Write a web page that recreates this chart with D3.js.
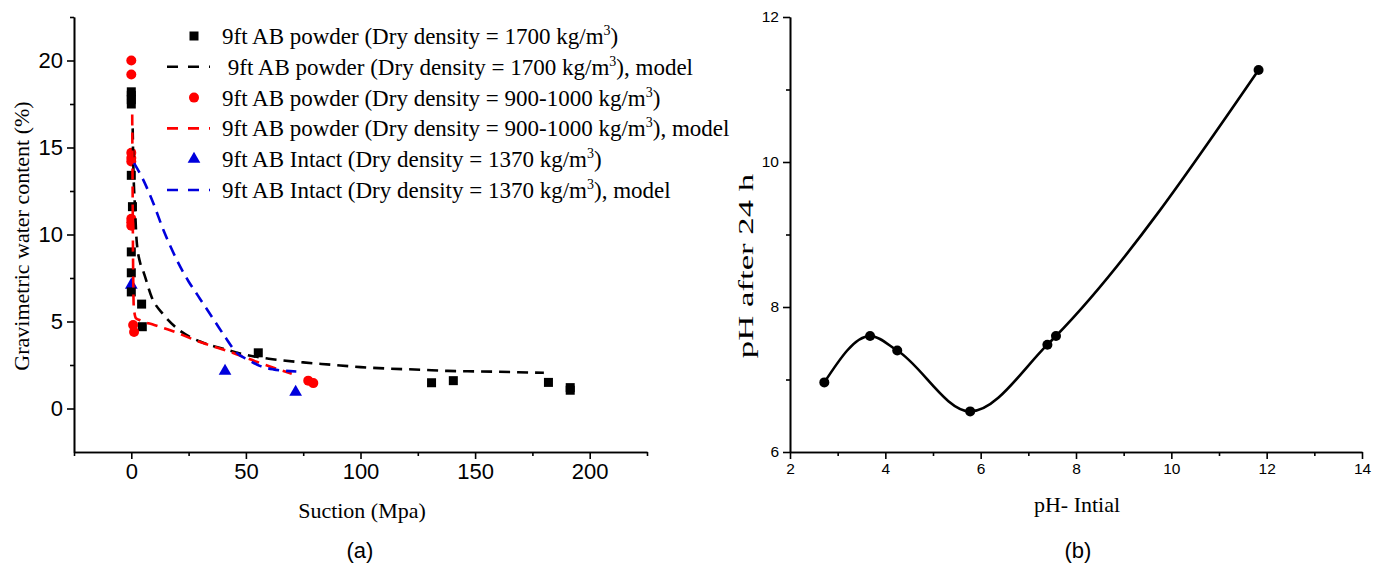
<!DOCTYPE html>
<html>
<head>
<meta charset="utf-8">
<script src="https://cdn.jsdelivr.net/npm/d3@7"></script>
<style>
  body { margin: 0; background: #fff; }
  svg { display: block; }
</style>
</head>
<body>
<div id="chart"></div>
<script>

// (a) measured points
const sq1700_x = [ 0, 0, 0, 0, 0, 0.5, 0, 0, 0, 4.5, 4.8, 55.4, 131, 140.5, 182, 191.5, 191.5 ];
const sq1700_y = [ 18.2, 18.0, 17.75, 17.5, 13.4, 11.6, 9.0, 7.8, 6.7, 6.0, 4.7, 3.2, 1.48, 1.6, 1.5, 1.2, 1.05 ];

const ci900_x = [ 0, 0, 0, 0, 0, 0, 0, 0, 0.8, 1.2, 77.2, 79.4 ];
const ci900_y = [ 20.0, 19.2, 14.7, 14.4, 14.2, 10.9, 10.7, 10.5, 4.8, 4.4, 1.6, 1.46 ];

const tri1370_x = [ 0, 40.9, 71.7 ];
const tri1370_y = [ 7.1, 2.15, 0.94 ];

// (a) model curves
const model1700_x = [ 0.6, 0.9, 1.6, 2.3, 3.8, 5.2, 8.9, 14, 20, 30, 40, 50, 60, 75, 87, 100, 113, 126, 138, 152, 167, 180 ];
const model1700_y = [ 16.1, 13.9, 11.6, 9.7, 8.4, 7.9, 6.4, 5.4, 4.6, 3.85, 3.44, 3.08, 2.86, 2.65, 2.52, 2.38, 2.29, 2.23, 2.16, 2.13, 2.09, 2.05 ];

const model900_x = [ 0.4, 0.6, 0.8, 1.1, 2, 3.8, 10, 17, 30, 43, 55, 63, 70 ];
const model900_y = [ 16.9, 12, 8, 5.8, 5.2, 5.07, 4.8, 4.5, 3.82, 3.26, 2.67, 2.3, 2.0 ];

const model1370_x = [ 1.2, 5, 9, 14.5, 20, 25, 29, 33, 37, 41, 46, 51, 56, 62, 72 ];
const model1370_y = [ 14.1, 13.2, 12.0, 10.1, 8.5, 7.3, 6.5, 5.7, 4.9, 4.1, 3.2, 2.8, 2.45, 2.25, 2.13 ];

// (b)
const pH_initial = [ 2.72, 3.68, 4.25, 5.78, 7.4, 7.58, 11.83 ];
const pH_24h = [ 6.96, 7.6, 7.4, 6.56, 7.48, 7.6, 11.27 ];

const xTicksA = [ 0, 50, 100, 150, 200 ];
const yTicksA = [ 0, 5, 10, 15, 20 ];
const xTicksB = [ 2, 4, 6, 8, 10, 12, 14 ];
const yTicksB = [ 6, 8, 10, 12 ];

const legendLabels = [
  [ '9ft AB powder (Dry density = 1700 kg/m', '3', ')' ],
  [ ' 9ft AB powder (Dry density = 1700 kg/m', '3', '), model' ],
  [ '9ft AB powder (Dry density = 900-1000 kg/m', '3', ')' ],
  [ '9ft AB powder (Dry density = 900-1000 kg/m', '3', '), model' ],
  [ '9ft AB Intact (Dry density = 1370 kg/m', '3', ')' ],
  [ '9ft AB Intact (Dry density = 1370 kg/m', '3', '), model' ]
];

const RED = '#ff0000', BLUE = '#0000dd', BLACK = '#000000';
const serif = 'font-family:"Liberation Serif","Times New Roman",serif;';
const sans = 'font-family:"Liberation Sans",Arial,sans-serif;';

const zip = ( xs, ys ) => xs.map( ( x, i ) => [ x, ys[ i ] ] );

const svg = d3.select( '#chart' ).append( 'svg' )
  .attr( 'width', 1374 )
  .attr( 'height', 572 );

const plotTop = 17, plotBottom = 452;

// ---------- panel (a) ----------
const xa = d3.scaleLinear().domain( [ -25, 225 ] ).range( [ 74, 647 ] );
const ya = d3.scaleLinear().domain( [ -2.5, 22.5 ] ).range( [ plotBottom, plotTop ] );

function drawAxes( x, y, xt, yt, xMinor, yMinor, fontSize ) {
  svg.append( 'g' ).attr( 'transform', 'translate(0,' + plotBottom + ')' )
    .call( d3.axisBottom( x ).tickValues( xMinor ).tickSize( 4 ).tickFormat( '' ).tickSizeOuter( 0 ) );
  const gx = svg.append( 'g' ).attr( 'transform', 'translate(0,' + plotBottom + ')' )
    .call( d3.axisBottom( x ).tickValues( xt ).tickSize( 7 ).tickSizeOuter( 0 ).tickPadding( 4 ).tickFormat( d3.format( 'd' ) ) );
  gx.selectAll( 'text' ).attr( 'style', sans + 'font-size:' + fontSize + 'px' ).attr( 'fill', '#000' );

  svg.append( 'g' ).attr( 'transform', 'translate(' + x.range()[ 0 ] + ',0)' )
    .call( d3.axisLeft( y ).tickValues( yMinor ).tickSize( 4 ).tickFormat( '' ).tickSizeOuter( 0 ) );
  const gy = svg.append( 'g' ).attr( 'transform', 'translate(' + x.range()[ 0 ] + ',0)' )
    .call( d3.axisLeft( y ).tickValues( yt ).tickSize( 7 ).tickSizeOuter( 0 ).tickPadding( 4 ).tickFormat( d3.format( 'd' ) ) );
  gy.selectAll( 'text' ).attr( 'style', sans + 'font-size:' + fontSize + 'px' ).attr( 'fill', '#000' );

  svg.selectAll( '.domain, .tick line' ).attr( 'stroke', '#000' ).attr( 'stroke-width', 1.6 );
}

drawAxes( xa, ya, xTicksA, yTicksA, [ -25, 25, 75, 125, 175, 225 ], [ 2.5, 7.5, 12.5, 17.5, 22.5 ], 22 );

const lineA = d3.line().x( d => xa( d[ 0 ] ) ).y( d => ya( d[ 1 ] ) );

const models = [
  { pts: zip( model1700_x, model1700_y ), color: BLACK },
  { pts: zip( model900_x, model900_y ), color: RED },
  { pts: zip( model1370_x, model1370_y ), color: BLUE }
];

// scatter first, models over them like the original
const sq = zip( sq1700_x, sq1700_y );
const ci = zip( ci900_x, ci900_y );
const tri = zip( tri1370_x, tri1370_y );

svg.append( 'g' ).selectAll( 'path' )
  .data( tri ).enter().append( 'path' )
    .attr( 'd', d3.symbol( d3.symbolTriangle, 70 ) )
    .attr( 'transform', d => 'translate(' + xa( d[ 0 ] ) + ',' + ya( d[ 1 ] ) + ')' )
    .attr( 'fill', BLUE );

svg.append( 'g' ).selectAll( 'rect' )
  .data( sq ).enter().append( 'rect' )
    .attr( 'x', d => xa( d[ 0 ] ) - 4.5 )
    .attr( 'y', d => ya( d[ 1 ] ) - 4.5 )
    .attr( 'width', 9 ).attr( 'height', 9 )
    .attr( 'fill', BLACK );

svg.append( 'g' ).selectAll( 'circle' )
  .data( ci ).enter().append( 'circle' )
    .attr( 'cx', d => xa( d[ 0 ] ) )
    .attr( 'cy', d => ya( d[ 1 ] ) )
    .attr( 'r', 5 )
    .attr( 'fill', RED );

svg.append( 'g' ).selectAll( 'path' )
  .data( models ).enter().append( 'path' )
    .attr( 'd', d => lineA.curve( d3.curveMonotoneX )( d.pts ) )
    .attr( 'fill', 'none' )
    .attr( 'stroke', d => d.color )
    .attr( 'stroke-width', 2.6 )
    .attr( 'stroke-dasharray', '11,7' );

// legend
const legX = 194, legY0 = 36, legStep = 30.8;
const legKind = [ 'square', 'line', 'circle', 'line', 'triangle', 'line' ];
const legColor = [ BLACK, BLACK, RED, RED, BLUE, BLUE ];

legKind.forEach( function( k, i ) {
  const yy = legY0 + i * legStep;
  if ( k === 'line' ) {
    svg.append( 'line' )
      .attr( 'x1', legX - 27 ).attr( 'x2', legX + 16 )
      .attr( 'y1', yy ).attr( 'y2', yy )
      .attr( 'stroke', legColor[ i ] ).attr( 'stroke-width', 2.6 )
      .attr( 'stroke-dasharray', '11,10' );
  } else if ( k === 'square' ) {
    svg.append( 'rect' ).attr( 'x', legX - 4.5 ).attr( 'y', yy - 4.5 )
      .attr( 'width', 9 ).attr( 'height', 9 ).attr( 'fill', legColor[ i ] );
  } else if ( k === 'circle' ) {
    svg.append( 'circle' ).attr( 'cx', legX ).attr( 'cy', yy ).attr( 'r', 5 ).attr( 'fill', legColor[ i ] );
  } else {
    svg.append( 'path' ).attr( 'd', d3.symbol( d3.symbolTriangle, 70 ) )
      .attr( 'transform', 'translate(' + legX + ',' + yy + ')' ).attr( 'fill', legColor[ i ] );
  }
  const t = svg.append( 'text' )
    .attr( 'x', legX + 28 ).attr( 'y', yy + 8 )
    .attr( 'style', serif + 'font-size:23px; white-space:pre' )
    .attr( 'fill', '#000' );
  t.append( 'tspan' ).text( legendLabels[ i ][ 0 ] );
  t.append( 'tspan' ).attr( 'dy', -9 ).attr( 'style', 'font-size:14px' ).text( legendLabels[ i ][ 1 ] );
  t.append( 'tspan' ).attr( 'dy', 9 ).text( legendLabels[ i ][ 2 ] );
} );

// axis titles (a)
svg.append( 'text' )
  .attr( 'transform', 'translate(29,236) rotate(-90)' )
  .attr( 'text-anchor', 'middle' )
  .attr( 'style', serif + 'font-size:22px' )
  .text( 'Gravimetric water content (%)' );
svg.append( 'text' )
  .attr( 'x', 362 ).attr( 'y', 518 )
  .attr( 'text-anchor', 'middle' )
  .attr( 'style', serif + 'font-size:22px' )
  .text( 'Suction (Mpa)' );
svg.append( 'text' )
  .attr( 'x', 360 ).attr( 'y', 558 )
  .attr( 'text-anchor', 'middle' )
  .attr( 'style', sans + 'font-size:22px' )
  .text( '(a)' );

// ---------- panel (b) ----------
const xb = d3.scaleLinear().domain( [ 2, 14 ] ).range( [ 790, 1362 ] );
const yb = d3.scaleLinear().domain( [ 6, 12 ] ).range( [ plotBottom, plotTop ] );

drawAxes( xb, yb, xTicksB, yTicksB, [ 3, 5, 7, 9, 11, 13 ], [ 7, 9, 11 ], 15.5 );

const ph = zip( pH_initial, pH_24h );

svg.append( 'path' )
  .attr( 'd', d3.line().x( d => xb( d[ 0 ] ) ).y( d => yb( d[ 1 ] ) ).curve( d3.curveMonotoneX )( ph ) )
  .attr( 'fill', 'none' )
  .attr( 'stroke', BLACK )
  .attr( 'stroke-width', 2.6 );

svg.append( 'g' ).selectAll( 'circle' )
  .data( ph ).enter().append( 'circle' )
    .attr( 'cx', d => xb( d[ 0 ] ) )
    .attr( 'cy', d => yb( d[ 1 ] ) )
    .attr( 'r', 5 )
    .attr( 'fill', BLACK );

// the y title is stretched along its length in the original
svg.append( 'text' )
  .attr( 'transform', 'translate(753,266) rotate(-90) scale(1.58,1)' )
  .attr( 'text-anchor', 'middle' )
  .attr( 'style', serif + 'font-size:22px' )
  .text( 'pH after 24 h' );
svg.append( 'text' )
  .attr( 'x', 1077 ).attr( 'y', 512 )
  .attr( 'text-anchor', 'middle' )
  .attr( 'style', serif + 'font-size:22px' )
  .text( 'pH- Intial' );
svg.append( 'text' )
  .attr( 'x', 1078 ).attr( 'y', 558 )
  .attr( 'text-anchor', 'middle' )
  .attr( 'style', sans + 'font-size:22px' )
  .text( '(b)' );

</script>
</body>
</html>
